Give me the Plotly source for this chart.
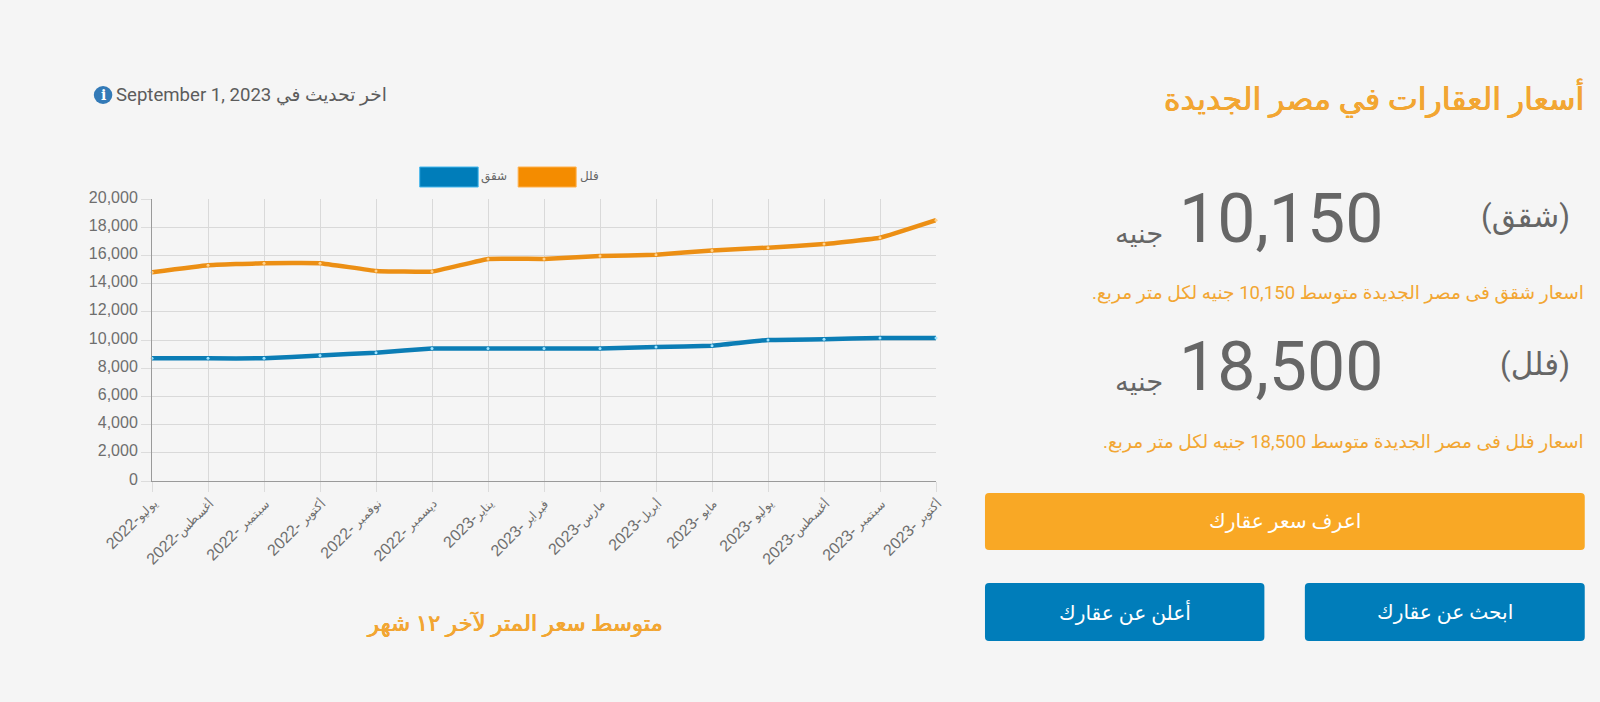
import plotly.graph_objects as go

W, H = 1600, 702
L, R, T, B = 151.7, 936.0, 199.0, 481.0

month_names = ["يوليو", "أغسطس", "سبتمبر ", "أكتوبر ", "نوفمبر ", "ديسمبر ", "يناير", "فبراير ",
               "مارس", "أبريل", "مايو ", "يوليو ", "أغسطس", "سبتمبر ", "أكتوبر "]
years = [2022, 2022, 2022, 2022, 2022, 2022, 2023, 2023, 2023, 2023, 2023, 2023, 2023, 2023, 2023]
villas = [14800, 15300, 15450, 15450, 14900, 14850, 15750, 15750, 15950, 16050, 16350, 16550, 16800, 17250, 18500]
flats = [8700, 8700, 8700, 8900, 9100, 9400, 9400, 9400, 9400, 9500, 9600, 10000, 10050, 10150, 10150]
flat_name = "شقق"
villa_name = "فلل"
y_ticks = list(range(0, 20001, 2000))

months = [f"{m}-{y}" for m, y in zip(month_names, years)]
month_ticks = [f"<span style='font-size:12px'>{m}</span>-{y}" for m, y in zip(month_names, years)]

ORANGE = "#f9a825"
TEXT_OR = "#f2a632"
BLUE = "#007dba"
LINE_OR = "#ec8f14"
LINE_BL = "#0b7db5"
GRAY = "#666666"
ARABIC = "Roboto, 'Noto Sans', 'DejaVu Sans', sans-serif"
THICK = "0.45px 0 0 #f2a632, -0.45px 0 0 #f2a632"


def px(x):
    return (x - L) / (R - L)


def py(y):
    return (B - y) / (B - T)


def rounded(x0, y0, x1, y1, r, color):
    return dict(type="path", xref="paper", yref="paper", layer="below", fillcolor=color,
                line=dict(width=0),
                path=(f"M {px(x0 + r)} {py(y0)} L {px(x1 - r)} {py(y0)} Q {px(x1)} {py(y0)} {px(x1)} {py(y0 + r)} "
                      f"L {px(x1)} {py(y1 - r)} Q {px(x1)} {py(y1)} {px(x1 - r)} {py(y1)} "
                      f"L {px(x0 + r)} {py(y1)} Q {px(x0)} {py(y1)} {px(x0)} {py(y1 - r)} "
                      f"L {px(x0)} {py(y0 + r)} Q {px(x0)} {py(y0)} {px(x0 + r)} {py(y0)} Z"))


def box(x0, y0, x1, y1, fill, edge):
    return dict(type="rect", xref="paper", yref="paper", x0=px(x0), x1=px(x1), y0=py(y1), y1=py(y0),
                fillcolor=fill, line=dict(color=edge, width=1))


def text(s, x, y, size, color, anchor="center", family=ARABIC, shadow=None):
    font = dict(size=size, color=color, family=family)
    if shadow:
        font["shadow"] = shadow
    return dict(text=s, x=px(x), y=py(y), xref="paper", yref="paper", xanchor=anchor, yanchor="middle",
                showarrow=False, font=font, borderpad=0, borderwidth=0)


fig = go.Figure()
fig.add_trace(go.Scatter(x=months, y=villas, name=villa_name, mode="lines+markers",
                         line=dict(color=LINE_OR, width=4.5, shape="spline", smoothing=0.25),
                         marker=dict(size=3, color="#ffd08a"), cliponaxis=False))
fig.add_trace(go.Scatter(x=months, y=flats, name=flat_name, mode="lines+markers",
                         line=dict(color=LINE_BL, width=4.5, shape="spline", smoothing=0.25),
                         marker=dict(size=3, color="#9fe3ff"), cliponaxis=False))

shapes = [
    rounded(985, 493, 1585, 550, 4, ORANGE),
    rounded(985, 583, 1264.5, 641, 4, BLUE),
    rounded(1305, 583, 1585, 641, 4, BLUE),
    box(419.5, 167, 478, 187, BLUE, "#45b8ee"),
    box(518, 167, 576, 187, "#f48c00", "#ffb04d"),
    dict(type="circle", xref="paper", yref="paper", x0=px(93.5), x1=px(112), y0=py(104), y1=py(86),
         fillcolor="#337ab7", line=dict(width=0)),
]

annotations = [
    text("أسعار العقارات في مصر الجديدة", 1584, 98, 31.6, TEXT_OR, "right", shadow=THICK),
    text("September 1, 2023 اخر تحديث في", 116, 95, 18.6, "#5c5c5c", "left"),
    text("<b>i</b>", 102.7, 95, 14, "#ffffff", "center", "'DejaVu Serif', serif"),
    text(f"({flat_name})", 1570, 216, 31, GRAY, "right"),
    text("10,150", 1281, 219, 68, GRAY),
    text("جنيه", 1163, 233, 27.5, GRAY, "right"),
    text("\u202bاسعار شقق فى مصر الجديدة متوسط 10,150 جنيه لكل متر مربع.\u202c", 1584, 293, 18.6, TEXT_OR, "right"),
    text(f"({villa_name})", 1570, 364, 31, GRAY, "right"),
    text("18,500", 1281, 367, 68, GRAY),
    text("جنيه", 1163, 381, 27.5, GRAY, "right"),
    text("\u202bاسعار فلل فى مصر الجديدة متوسط 18,500 جنيه لكل متر مربع.\u202c", 1584, 442, 18.6, TEXT_OR, "right"),
    text("اعرف سعر عقارك", 1285, 521, 20.2, "#ffffff"),
    text("أعلن عن عقارك", 1125, 612, 20.2, "#ffffff"),
    text("ابحث عن عقارك", 1445, 612, 20.2, "#ffffff"),
    text("متوسط سعر المتر لآخر ١٢ شهر", 515, 623, 22.8, TEXT_OR, shadow=THICK),
    text(flat_name, 507, 176, 12, GRAY, "right", "'DejaVu Sans', sans-serif"),
    text(villa_name, 599, 176, 12, GRAY, "right", "'DejaVu Sans', sans-serif"),
]

fig.update_layout(
    width=W, height=H, autosize=False,
    margin=dict(l=L, r=W - R, t=T, b=H - B, pad=0),
    paper_bgcolor="#f5f5f5", plot_bgcolor="#f5f5f5",
    showlegend=False,
    shapes=shapes, annotations=annotations,
    xaxis=dict(type="category", categoryorder="array", categoryarray=months, range=[0, len(months) - 1],
               tickmode="array", tickvals=months, ticktext=month_ticks,
               tickangle=-45, showgrid=True, gridcolor="#d9d9d9", gridwidth=1,
               ticks="outside", ticklen=10, tickcolor="#dcdcdc", tickwidth=1, showline=True, linecolor="#9a9a9a",
               linewidth=1, zeroline=False, ticklabelstandoff=-4,
               tickfont=dict(size=16, color="#6e6e6e", family="'Liberation Sans', Arial, sans-serif")),
    yaxis=dict(range=[0, 20000], tickvals=y_ticks, tickformat=",", showgrid=True, gridcolor="#d9d9d9", gridwidth=1,
               ticks="outside", ticklen=10, tickcolor="#dcdcdc", tickwidth=1, showline=True, linecolor="#9a9a9a",
               linewidth=1, zeroline=False, ticklabelshift=-2,
               tickfont=dict(size=16, color="#6e6e6e", family="'Liberation Sans', Arial, sans-serif")),
)

fig.write_html("out.html", config=dict(displayModeBar=False),
               post_script="document.body.style.margin='0';document.body.style.background='#f5f5f5';document.body.style.overflow='hidden';")
